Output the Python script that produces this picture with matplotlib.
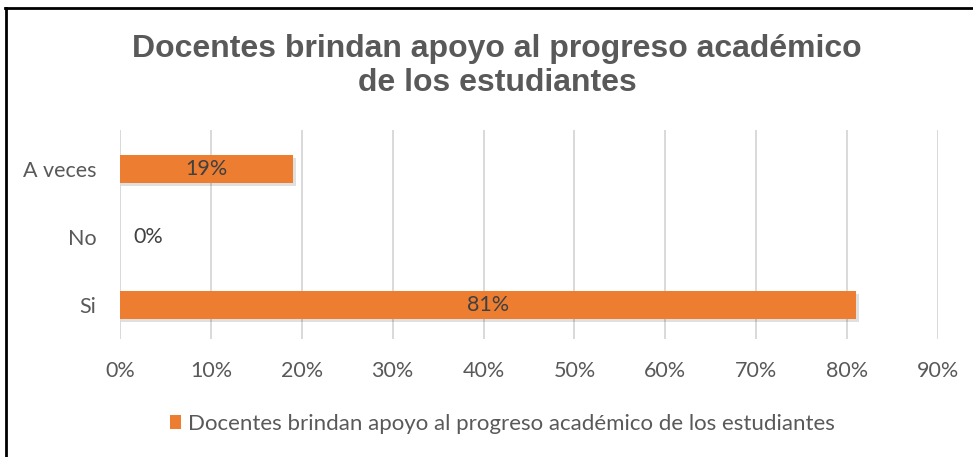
import matplotlib
matplotlib.use('Agg')
import matplotlib.pyplot as plt
from matplotlib.lines import Line2D
from matplotlib.patches import Patch

categories = ['Si', 'No', 'A veces']
values = [81, 0, 19]
labels = ['81%', '0%', '19%']
series_name = 'Docentes brindan apoyo al progreso académico de los estudiantes'
title = 'Docentes brindan apoyo al progreso académico\nde los estudiantes'
xticks = [0, 10, 20, 30, 40, 50, 60, 70, 80, 90]

bar_color = '#ED7D31'
text_gray = '#595959'

plt.rcParams['font.family'] = ['Lato', 'DejaVu Sans']

fig = plt.figure(figsize=(9.73, 4.57), dpi=100)
ax = fig.add_axes([0.1233, 0.258, 0.8407, 0.4575])

ypos = list(range(len(categories)))
# soft shadow below bars
ax.barh([y - 0.04 for y in ypos], [v + 0.25 if v else 0 for v in values], height=0.41,
        left=0.1, color='#000000', alpha=0.12, zorder=2)
ax.barh(ypos, values, height=0.41, color=bar_color, zorder=3)

for y, v, lab in zip(ypos, values, labels):
    if v > 0:
        ax.text(v / 2, y, lab, ha='center', va='center', fontsize=15.5, color='#404040', zorder=4)
    else:
        ax.text(3.1, y, lab, ha='center', va='center', fontsize=15.5, color='#404040', zorder=4)

ax.set_xlim(0, 90)
ax.set_ylim(-0.5, 2.57)
ax.set_xticks(xticks)
ax.set_xticklabels([f'{t}%' for t in xticks])
ax.set_yticks(ypos)
ax.set_yticklabels(categories)
ax.tick_params(axis='both', length=0, labelsize=15.5, labelcolor=text_gray)
ax.tick_params(axis='x', pad=16)
ax.tick_params(axis='y', pad=17)
ax.grid(axis='x', color='#D9D9D9', linewidth=1.4, zorder=0)
ax.set_axisbelow(True)
for s in ax.spines.values():
    s.set_visible(False)

fig.text(0.511, 0.856, title, ha='center', va='center', fontsize=23, fontweight='bold',
         color=text_gray, family=['Liberation Sans', 'DejaVu Sans'], linespacing=1.2)

fig.legend(handles=[Patch(facecolor=bar_color, label=series_name)], loc='center',
           bbox_to_anchor=(0.516, 1 - 424 / 457), frameon=False, fontsize=16,
           handlelength=0.5, handleheight=0.6, handletextpad=0.3, labelcolor=text_gray)

# frame lines of the original picture
fig.add_artist(Line2D([5.5 / 973, 5.5 / 973], [0, 1 - 7.5 / 457], color='black', linewidth=2,
                      transform=fig.transFigure))
fig.add_artist(Line2D([5 / 973, 1], [1 - 7.5 / 457, 1 - 7.5 / 457], color='black', linewidth=2,
                      transform=fig.transFigure))

fig.savefig('out.png', dpi=100)
